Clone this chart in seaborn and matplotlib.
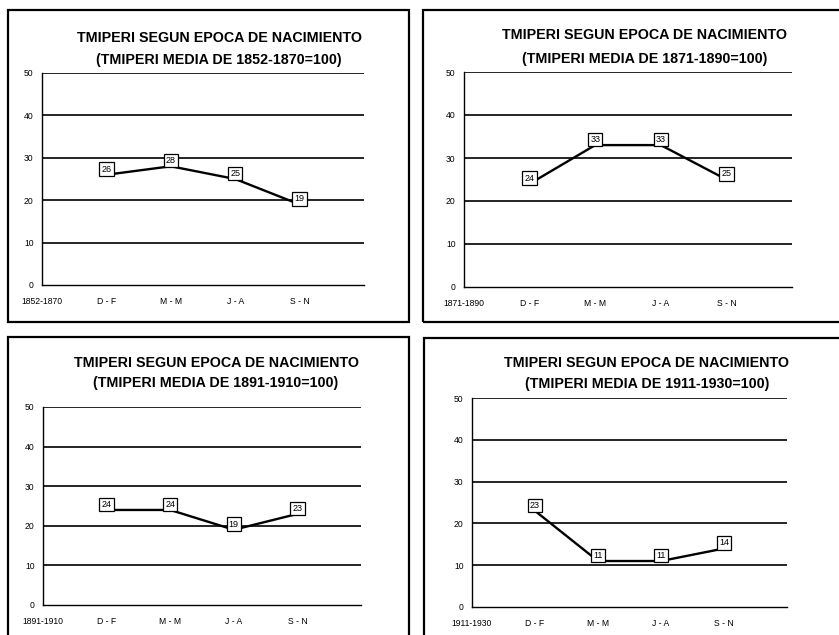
import matplotlib
matplotlib.use("Agg")
import matplotlib.pyplot as plt
from matplotlib.patches import Rectangle
import pandas as pd
import seaborn as sns

# Seasons of birth and the reference period of each panel
estaciones = ["D - F", "M - M", "J - A", "S - N"]
periodos = ["1852-1870", "1871-1890", "1891-1910", "1911-1930"]

# TMIPERI by season of birth (mean of the period = 100)
tmiperi_1852_1870 = [26, 28, 25, 19]
tmiperi_1871_1890 = [24, 33, 33, 25]
tmiperi_1891_1910 = [24, 24, 19, 23]
tmiperi_1911_1930 = [23, 11, 11, 14]

series = [tmiperi_1852_1870, tmiperi_1871_1890, tmiperi_1891_1910, tmiperi_1911_1930]

y_ticks = [0, 10, 20, 30, 40, 50]

sns.set_style("white")
plt.rcParams["font.family"] = ["Liberation Sans", "DejaVu Sans"]
plt.rcParams["text.color"] = "black"

W, H = 839, 635
fig = plt.figure(figsize=(W / 100, H / 100), dpi=100)


def fx(px):
    return px / W


def fy(py):
    return 1 - py / H


# pixel layout: panel frame (x0, y0, x1, y1), plot area (left, top, right, bottom), title centre x, title line y's
layout = [
    dict(frame=(8, 10, 409, 322), area=(42, 73, 364, 285), tx=219, ty=(38, 60)),
    dict(frame=(423, 10, 850, 322), area=(464, 72, 792, 287), tx=645, ty=(35, 59)),
    dict(frame=(8, 337, 409, 650), area=(43, 407, 361, 605), tx=216, ty=(363, 383)),
    dict(frame=(424, 338, 850, 650), area=(472, 398, 787, 607), tx=647, ty=(363, 384)),
]

for periodo, valores, lay in zip(periodos, series, layout):
    x0, y0, x1, y1 = lay["frame"]
    fig.patches.append(Rectangle((fx(x0), fy(y1)), fx(x1) - fx(x0), fy(y0) - fy(y1),
                                 transform=fig.transFigure, fill=False,
                                 edgecolor="black", linewidth=1.6, zorder=0))

    l, t, r, b = lay["area"]
    ax = fig.add_axes([fx(l), fy(b), fx(r) - fx(l), fy(t) - fy(b)])

    df = pd.DataFrame({"pos": range(1, len(estaciones) + 1),
                       "estacion": estaciones,
                       "valor": valores})
    sns.lineplot(data=df, x="pos", y="valor", ax=ax, color="black",
                 linewidth=1.7, zorder=3)

    for _, row in df.iterrows():
        ax.annotate(f"{row['valor']}", (row["pos"], row["valor"]),
                    xytext=(0, 4), textcoords="offset points",
                    ha="center", va="center", fontsize=6.5, zorder=5,
                    color="black",
                    bbox=dict(boxstyle="square,pad=0.25", facecolor="white",
                              edgecolor="black", linewidth=0.9))

    ax.set_xlim(0, 5)
    ax.set_ylim(0, 50)
    ax.set_xticks(range(6))
    ax.set_xticklabels([periodo] + estaciones + [""], fontsize=6.2)
    ax.set_yticks(y_ticks)
    ax.set_yticklabels([str(v) for v in y_ticks], fontsize=6.2)
    ax.set_xlabel("")
    ax.set_ylabel("")

    for v in y_ticks[1:]:
        ax.axhline(v, color="black", linewidth=1.2, zorder=1)

    for side in ("top", "right"):
        ax.spines[side].set_visible(False)
    for side in ("left", "bottom"):
        ax.spines[side].set_color("black")
        ax.spines[side].set_linewidth(1.0)
    ax.tick_params(axis="both", direction="out", length=3, width=0.8,
                   color="black", pad=3, labelcolor="black")
    ax.tick_params(axis="x", pad=6)

    fig.text(fx(lay["tx"]), fy(lay["ty"][0]), "TMIPERI SEGUN EPOCA DE NACIMIENTO",
             ha="center", va="center", fontsize=10.3, fontweight="bold", color="black")
    fig.text(fx(lay["tx"]), fy(lay["ty"][1]), f"(TMIPERI MEDIA DE {periodo}=100)",
             ha="center", va="center", fontsize=10.3, fontweight="bold", color="black")

fig.savefig("out.png", dpi=100, facecolor="white")
